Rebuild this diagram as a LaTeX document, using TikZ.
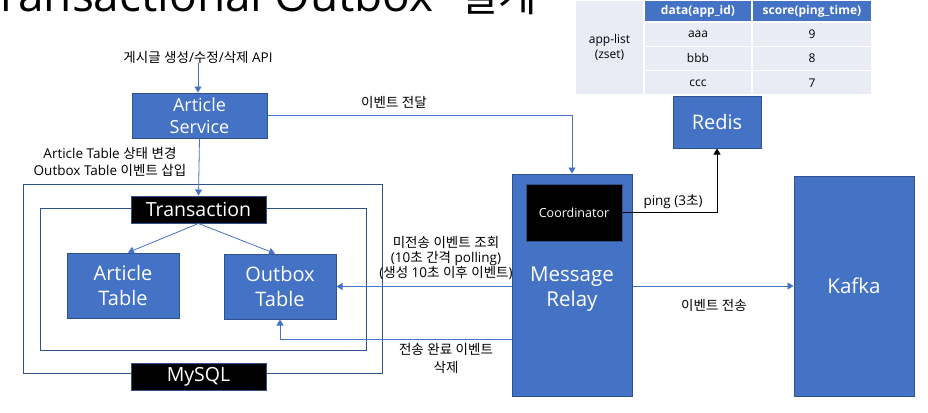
\documentclass[tikz,border=0pt]{standalone}
\usepackage{fontspec}
\setmainfont{Open Sans}
\newfontfamily\krfont{Noto Sans CJK KR}
% hangul syllables switch to the korean family by themselves
\XeTeXinterchartokenstate=1
\newXeTeXintercharclass\krclass
\newcount\krcode
\krcode="AC00
\loop
  \XeTeXcharclass\krcode=\krclass
  \ifnum\krcode<"D7A3 \advance\krcode by 1
\repeat
\XeTeXinterchartoks 0 \krclass = {\krfont}
\XeTeXinterchartoks 4095 \krclass = {\krfont}
\XeTeXinterchartoks \krclass 0 = {\rmfamily}
\XeTeXinterchartoks \krclass 4095 = {\rmfamily}
\usetikzlibrary{arrows.meta}
\definecolor{boxblue}{HTML}{4472C4}
\definecolor{boxedge}{HTML}{2F528F}
\definecolor{cellbg}{HTML}{E9EBF5}
\begin{document}
\begin{tikzpicture}[x=1pt,y=-1pt,
  blk/.style={draw=boxedge,fill=boxblue,text=white,line width=1pt,inner sep=0pt,align=center},
  tag/.style={draw=boxedge,fill=black,text=white,line width=1pt,inner sep=0pt},
  frame/.style={draw=boxedge,line width=1pt,inner sep=0pt},
  cell/.style={draw=white,line width=1.5pt,fill=cellbg,inner sep=0pt,font=\fontsize{12}{15}\selectfont,align=center},
  head/.style={cell,fill=boxblue,text=white,font=\fontsize{12}{14}\selectfont\bfseries},
  lbl/.style={inner sep=0pt,align=center,font=\fontsize{13.5}{16}\selectfont},
  arr/.style={draw=boxblue,line width=0.8pt,-{Triangle[length=6pt,width=7pt]}},
  pingarr/.style={draw=black,line width=0.8pt,-{Triangle[length=6pt,width=7pt]}}]
\useasboundingbox (0,0) rectangle (928,412);
% title, cut at the top
\begin{scope}
\clip (0,0) rectangle (928,412);
\node[anchor=base west,inner sep=0pt,font=\fontsize{46}{46}\selectfont] (title) at (-23,12) {Transactional Outbox\hspace{26pt}{\fontsize{42}{42}\selectfont 설계}};
\end{scope}
% mysql
\node[frame,minimum width=359pt,minimum height=189pt] (mysqlbox) at (202.5,278.5) {};
\node[frame,minimum width=326pt,minimum height=142pt] (txbox) at (203,279) {};
\node[tag,minimum width=135pt,minimum height=27pt,font=\fontsize{19.5}{24}\selectfont] (trans) at (198.5,209.5) {Transaction};
\node[tag,minimum width=135pt,minimum height=27pt,font=\fontsize{19.5}{24}\selectfont] (mysql) at (198.5,376.5) {MySQL};
\node[blk,minimum width=112pt,minimum height=65pt,font=\fontsize{20}{25}\selectfont] (art) at (123,285.5) {Article\\Table};
\node[blk,minimum width=112pt,minimum height=65pt,font=\fontsize{20}{25}\selectfont] (outbox) at (280,286.5) {Outbox\\Table};
% service
\node[lbl] (api) at (198,57) {게시글 생성/수정/삭제 API};
\node[blk,minimum width=135pt,minimum height=45pt,font=\fontsize{18}{22}\selectfont] (svc) at (199.5,115.5) {Article\\Service};
\node[lbl,font=\fontsize{13.5}{17}\selectfont] (dbnote) at (110,162) {Article Table 상태 변경\\Outbox Table 이벤트 삽입};
% relay, kafka, redis
\node[blk,minimum width=120pt,minimum height=222pt] (relay) at (572,285) {};
\node[inner sep=0pt,align=center,text=white,font=\fontsize{20.5}{25}\selectfont] (relaytxt) at (572,289) {Message\\Relay};
\node[tag,minimum width=96pt,minimum height=57pt,font=\fontsize{12.5}{15}\selectfont] (coord) at (574,212.5) {Coordinator};
\node[blk,minimum width=120pt,minimum height=220pt,font=\fontsize{20.5}{25}\selectfont] (kafka) at (854,286) {Kafka};
\node[blk,minimum width=88pt,minimum height=52pt,font=\fontsize{20}{25}\selectfont] (redis) at (717,122) {Redis};
% zset table
\node[cell,minimum width=69pt,minimum height=95pt] (key) at (609.5,47.5) {app-list\\(zset)};
\node[head,minimum width=108pt,minimum height=22pt] (hdata) at (698,11) {data(app\_id)};
\node[head,minimum width=120pt,minimum height=22pt] (hscore) at (812,11) {score(ping\_time)};
\foreach \d/\s [count=\i] in {aaa/9,bbb/8,ccc/7} {
  \node[cell,minimum width=108pt,minimum height=24.33pt] (d\i) at (698,{22+24.33*(\i-0.5)}) {\d};
  \node[cell,minimum width=120pt,minimum height=24.33pt] (s\i) at (812,{22+24.33*(\i-0.5)}) {\s};
}
% connectors
\draw[arr] (api.south) -- (api.south |- svc.north);
\draw[arr] (svc.south) -- (trans.north);
\draw[arr] (trans.south) -- ([xshift=5pt]art.north);
\draw[arr] (trans.south) -- ([xshift=-5pt]outbox.north);
\draw[arr] (svc.east) -| (relay.north);
\draw[pingarr] (coord.east) -| (redis.south);
\draw[arr] (relay.west |- outbox.east) -- (outbox.east);
\draw[arr] ([yshift=-54pt]relay.west) -| (outbox.south);
\draw[arr] (relay.east |- kafka.west) -- (kafka.west);
% labels
\node[lbl] (sendnote) at (394,102) {이벤트 전달};
\node[lbl] (pingnote) at (673,202) {ping (3초)};
\node[lbl,font=\fontsize{13.5}{15}\selectfont] (pollnote) at (446,258) {미전송 이벤트 조회\\(10초 간격 polling)\\(생성 10초 이후 이벤트)};
\node[lbl,font=\fontsize{13.5}{18}\selectfont] (delnote) at (446,358) {전송 완료 이벤트\\삭제};
\node[lbl] (kafkanote) at (714,305) {이벤트 전송};
\end{tikzpicture}
\end{document}
